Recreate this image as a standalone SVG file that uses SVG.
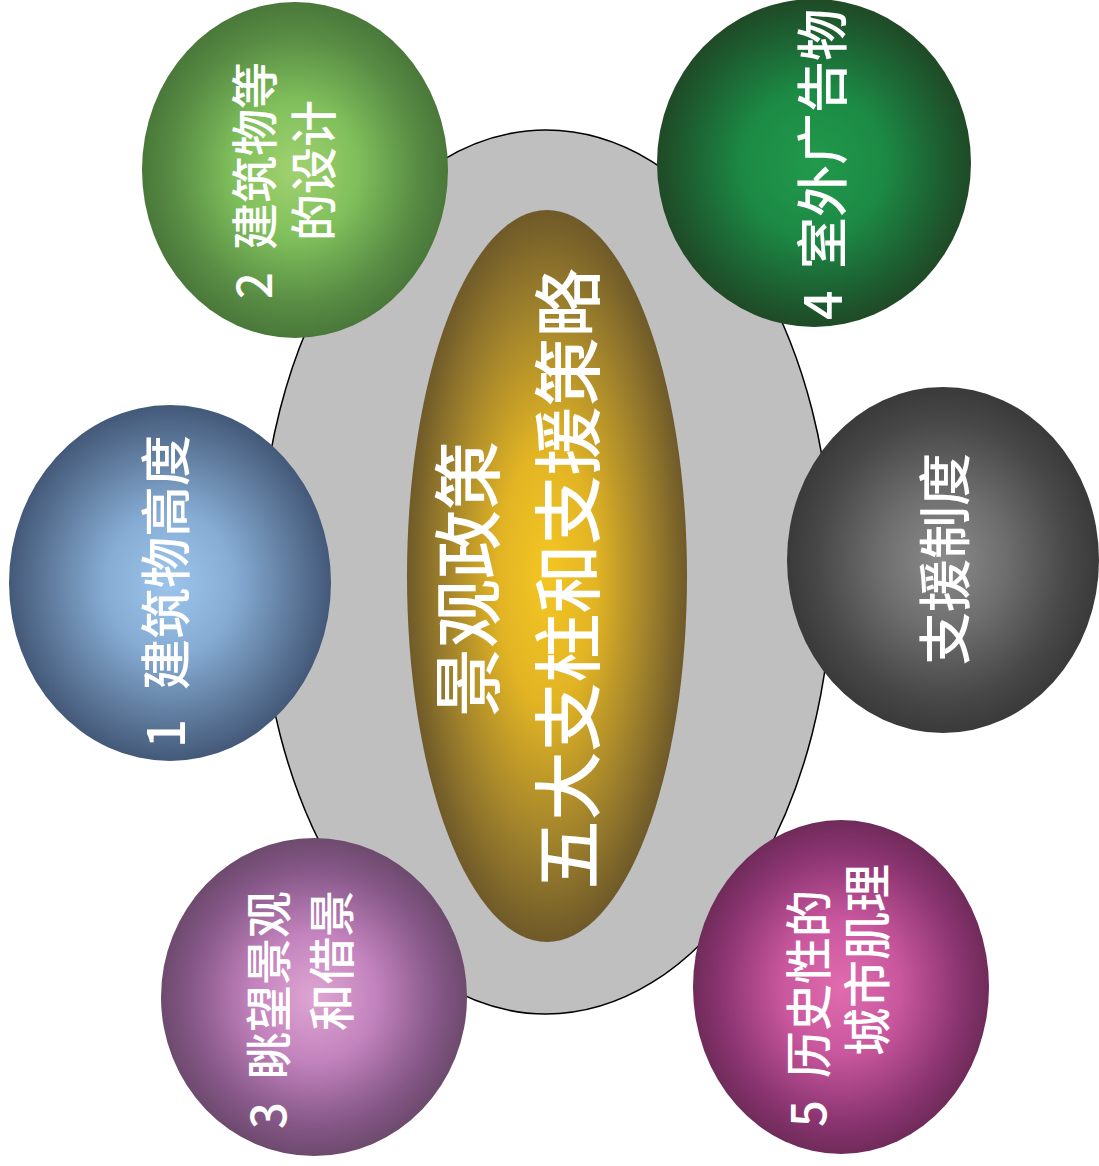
<svg xmlns="http://www.w3.org/2000/svg" width="1099" height="1166" viewBox="0 0 1099 1166">
<defs>
<radialGradient id="gGold"><stop offset="0" stop-color="#f4c622"/><stop offset="0.35" stop-color="#e2b424"/><stop offset="0.75" stop-color="#9c7f2c"/><stop offset="1" stop-color="#6f5a29"/></radialGradient>
<radialGradient id="gBlue"><stop offset="0" stop-color="#9dc5ec"/><stop offset="0.4" stop-color="#86acd4"/><stop offset="0.8" stop-color="#5a7596"/><stop offset="1" stop-color="#44597a"/></radialGradient>
<radialGradient id="gGreen"><stop offset="0" stop-color="#a2d170"/><stop offset="0.4" stop-color="#80c05c"/><stop offset="0.8" stop-color="#588c44"/><stop offset="1" stop-color="#4a783a"/></radialGradient>
<radialGradient id="gPurple"><stop offset="0" stop-color="#dea6d2"/><stop offset="0.4" stop-color="#c383be"/><stop offset="0.8" stop-color="#865888"/><stop offset="1" stop-color="#6e4a6e"/></radialGradient>
<radialGradient id="gDkGreen"><stop offset="0" stop-color="#219a4c"/><stop offset="0.45" stop-color="#1c8a44"/><stop offset="0.8" stop-color="#1d6032"/><stop offset="1" stop-color="#1f4a25"/></radialGradient>
<radialGradient id="gGrey"><stop offset="0" stop-color="#8c8c8c"/><stop offset="0.4" stop-color="#6e6e6e"/><stop offset="0.8" stop-color="#484848"/><stop offset="1" stop-color="#3a3a3a"/></radialGradient>
<radialGradient id="gMagenta"><stop offset="0" stop-color="#e06cae"/><stop offset="0.4" stop-color="#c9579e"/><stop offset="0.8" stop-color="#8c3572"/><stop offset="1" stop-color="#702b5a"/></radialGradient>
</defs>
<style>
text { font-family: "Noto Sans CJK SC", "Noto Sans", sans-serif; fill: #ffffff; dominant-baseline: central; font-weight: 500; }
.c { font-size: 69px; }
.n { font-size: 48px; }
</style>
<g id="frame">
<ellipse cx="546" cy="572" rx="286" ry="442" fill="#bfbfbf" stroke="#000" stroke-width="1.5"/>
</g>
<g id="center" transform="translate(547,576)">
<ellipse rx="140" ry="366" fill="url(#gGold)"/>
<g transform="rotate(-90)">
<text class="c" x="-3" y="-83" text-anchor="middle">景观政策</text>
<text class="c" x="-3" y="17" text-anchor="middle">五大支柱和支援策略</text>
</g>
</g>
<g id="node1" transform="translate(170,583)">
<ellipse rx="161" ry="178" fill="url(#gBlue)"/>
<text class="n" transform="rotate(-90)" y="-7" style="font-size:51px"><tspan x="-165">1</tspan><tspan x="-107">建筑物高度</tspan></text>
</g>
<g id="node2" transform="translate(295,170)">
<ellipse rx="153" ry="168" fill="url(#gGreen)"/>
<g transform="rotate(-90)">
<text class="n" y="-44" style="font-size:47px"><tspan x="-129">2</tspan><tspan x="-80">建筑物等</tspan></text>
<text class="n" x="-71" y="15" style="font-size:47px">的设计</text>
</g>
</g>
<g id="node3" transform="translate(314,997)">
<ellipse rx="153" ry="159" fill="url(#gPurple)"/>
<g transform="rotate(-90)">
<text class="n" y="-49" style="font-size:47px"><tspan x="-132">3</tspan><tspan x="-82">眺望景观</tspan></text>
<text class="n" x="-34" y="14" style="font-size:47px">和借景</text>
</g>
</g>
<g id="node4" transform="translate(814,163)">
<ellipse rx="157" ry="164" fill="url(#gDkGreen)"/>
<text class="n" transform="rotate(-90)" y="5" style="font-size:52px"><tspan x="-157">4</tspan><tspan x="-106">室外广告物</tspan></text>
</g>
<g id="node5" transform="translate(943,560)">
<ellipse rx="156" ry="173" fill="url(#gGrey)"/>
<text class="n" transform="rotate(-90)" x="1" y="-1" text-anchor="middle" style="font-size:53px">支援制度</text>
</g>
<g id="node6" transform="translate(841,987)">
<ellipse rx="148" ry="167" fill="url(#gMagenta)"/>
<g transform="rotate(-90)">
<text class="n" y="-36" style="font-size:47px"><tspan x="-140">5</tspan><tspan x="-91">历史性的</tspan></text>
<text class="n" x="-69" y="23" style="font-size:48px">城市肌理</text>
</g>
</g>
</svg>
